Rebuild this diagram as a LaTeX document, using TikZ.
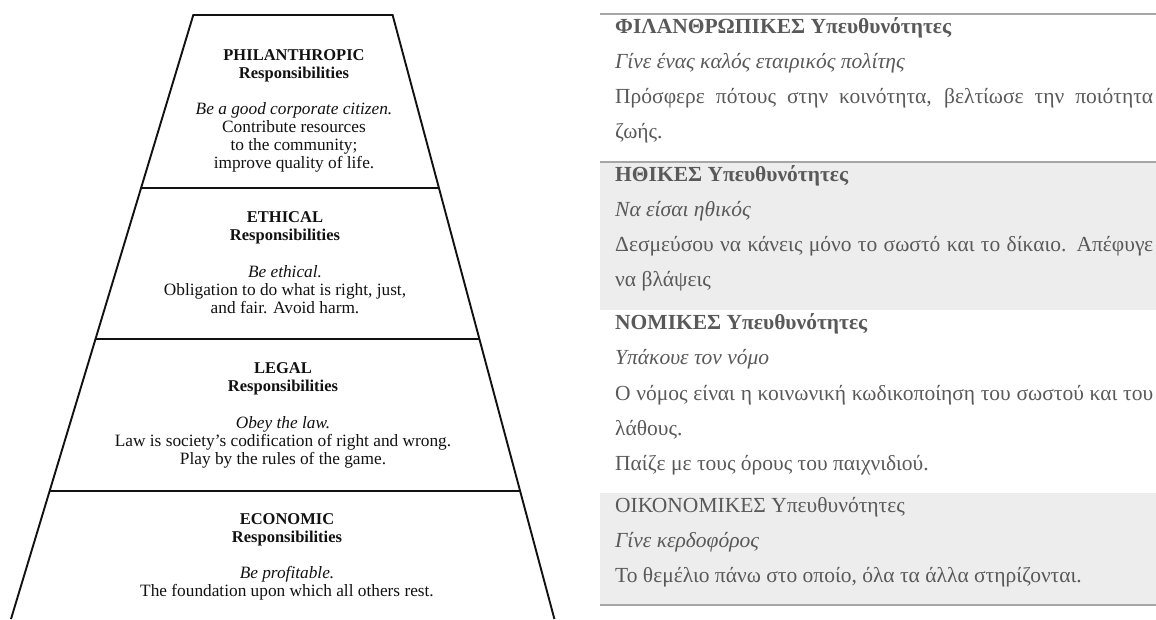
\documentclass[tikz,border=0pt]{standalone}
\usepackage{fontspec}
\setmainfont{Liberation Serif}
\usetikzlibrary{calc}
\definecolor{txtgray}{HTML}{595959}
\definecolor{rulegray}{HTML}{A6A6A6}
\definecolor{bandgray}{HTML}{EDEDED}
\definecolor{pyrink}{HTML}{111111}
\begin{document}
\begin{tikzpicture}[x=1pt,y=-1pt,
  pyr/.style={line width=1.9pt, draw=pyrink},
  ph/.style={anchor=base, inner sep=0pt, text=pyrink, font=\fontsize{16.5}{18}\selectfont\bfseries},
  pb/.style={anchor=base, inner sep=0pt, text=pyrink, font=\fontsize{17.3}{18}\selectfont},
  pit/.style={anchor=base, inner sep=0pt, text=pyrink, font=\fontsize{17.3}{18}\selectfont\itshape},
  gt/.style={anchor=base west, inner sep=0pt, text=txtgray, font=\fontsize{21.5}{26}\selectfont},
  gtb/.style={anchor=base west, inner sep=0pt, text=txtgray, font=\fontsize{21.5}{26}\selectfont\bfseries},
  gti/.style={anchor=base west, inner sep=0pt, text=txtgray, font=\fontsize{21.5}{26}\selectfont\itshape},
  tabrule/.style={draw=rulegray, line width=1.6pt}
]
\useasboundingbox (0,0) rectangle (1156,619);

% ---------------- pyramid ----------------
\coordinate (tl) at (193.3,15);
\coordinate (tr) at (392.6,15);
\coordinate (bl) at (11,619);
\coordinate (br) at (554.4,619);
\coordinate (d1l) at ($(tl)!0.2864!(bl)$);
\coordinate (d1r) at ($(tr)!0.2864!(br)$);
\coordinate (d2l) at ($(tl)!0.5364!(bl)$);
\coordinate (d2r) at ($(tr)!0.5364!(br)$);
\coordinate (d3l) at ($(tl)!0.7881!(bl)$);
\coordinate (d3r) at ($(tr)!0.7881!(br)$);
\draw[pyr, line join=miter] (bl) -- (tl) -- (tr) -- (br);
\draw[pyr] (d1l) -- (d1r);
\draw[pyr] (d2l) -- (d2r);
\draw[pyr] (d3l) -- (d3r);

\node[ph] (p1a) at (294,60) {PHILANTHROPIC};
\node[ph] (p1b) at (294,78) {Responsibilities};
\node[pit] (p1c) at (294,114) {Be a good corporate citizen.};
\node[pb] (p1d) at (294,132) {Contribute resources};
\node[pb] (p1e) at (294,150) {to the community;};
\node[pb] (p1f) at (294,168) {improve quality of life.};

\node[ph] (p2a) at (285,222) {ETHICAL};
\node[ph] (p2b) at (285,240) {Responsibilities};
\node[pit] (p2c) at (285,277) {Be ethical.};
\node[pb] (p2d) at (285,295) {Obligation to do what is right, just,};
\node[pb] (p2e) at (285,313) {and fair. Avoid harm.};

\node[ph] (p3a) at (283,373) {LEGAL};
\node[ph] (p3b) at (283,391) {Responsibilities};
\node[pit] (p3c) at (283,428) {Obey the law.};
\node[pb] (p3d) at (283,446) {Law is society's codification of right and wrong.};
\node[pb] (p3e) at (283,464) {Play by the rules of the game.};

\node[ph] (p4a) at (287,524) {ECONOMIC};
\node[ph] (p4b) at (287,542) {Responsibilities};
\node[pit] (p4c) at (287,578) {Be profitable.};
\node[pb] (p4d) at (287,596) {The foundation upon which all others rest.};

% ---------------- table ----------------
\fill[bandgray] (600,162) rectangle (1156,310);
\fill[bandgray] (600,493) rectangle (1156,605);
\draw[tabrule] (600,14) -- (1156,14);
\draw[tabrule] (600,162) -- (1156,162);
\draw[tabrule] (600,605) -- (1156,605);

\node[gtb] (r1a) at (615,33) {ΦΙΛΑΝΘΡΩΠΙΚΕΣ Υπευθυνότητες};
\node[gti] (r1b) at (615,68) {Γίνε ένας καλός εταιρικός πολίτης};
\node[gt] (r1c) at (615,103) {\makebox[538pt][s]{Πρόσφερε πότους στην κοινότητα, βελτίωσε την ποιότητα}};
\node[gt] (r1d) at (615,138) {ζωής.};

\node[gtb] (r2a) at (615,181) {ΗΘΙΚΕΣ Υπευθυνότητες};
\node[gti] (r2b) at (615,216) {Να είσαι ηθικός};
\node[gt] (r2c) at (615,251) {\makebox[538pt][s]{Δεσμεύσου να κάνεις μόνο το σωστό και το δίκαιο. Απέφυγε}};
\node[gt] (r2d) at (615,286) {να βλάψεις};

\node[gtb] (r3a) at (615,329) {ΝΟΜΙΚΕΣ Υπευθυνότητες};
\node[gti] (r3b) at (615,364) {Υπάκουε τον νόμο};
\node[gt] (r3c) at (615,400) {\makebox[538pt][s]{Ο νόμος είναι η κοινωνική κωδικοποίηση του σωστού και του}};
\node[gt] (r3d) at (615,435) {λάθους.};
\node[gt] (r3e) at (615,470) {Παίζε με τους όρους του παιχνιδιού.};

\node[gt] (r4a) at (615,512) {ΟΙΚΟΝΟΜΙΚΕΣ Υπευθυνότητες};
\node[gti] (r4b) at (615,547) {Γίνε κερδοφόρος};
\node[gt] (r4c) at (615,582) {Το θεμέλιο πάνω στο οποίο, όλα τα άλλα στηρίζονται.};
\end{tikzpicture}
\end{document}
